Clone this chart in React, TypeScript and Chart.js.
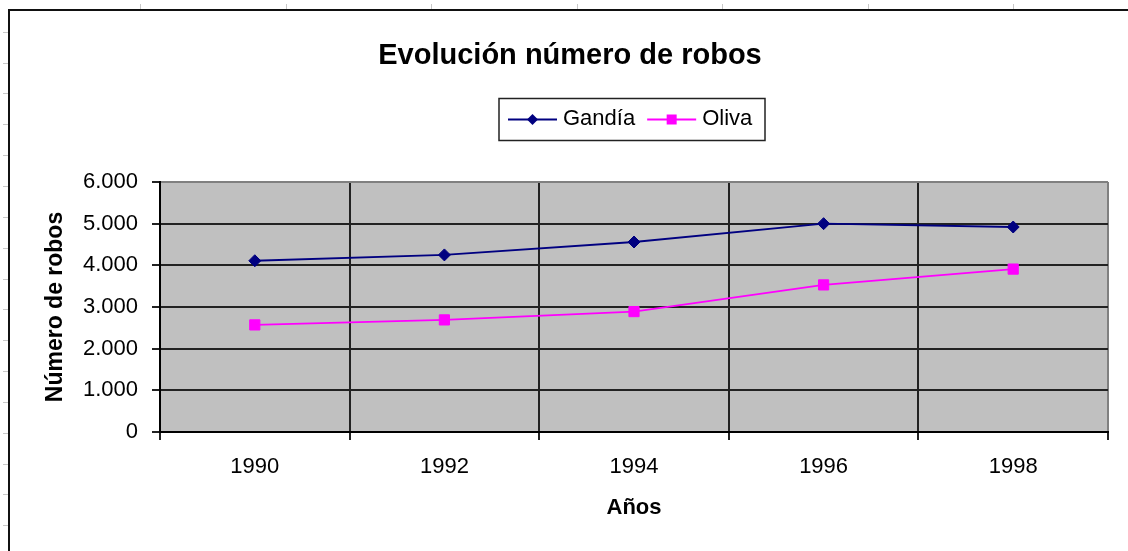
import React, { useEffect, useRef } from 'react';
import { Chart, registerables } from 'chart.js';

Chart.register(...registerables);

const FONT = "'Liberation Sans', Arial, Helvetica, sans-serif";

const chartTitle = 'Evolución número de robos';
const xAxisTitle = 'Años';
const yAxisTitle = 'Número de robos';
const years = ['1990', '1992', '1994', '1996', '1998'];
const seriesNames = ['Gandía', 'Oliva'];
const gandia = [4110, 4250, 4560, 5000, 4920];
const oliva = [2570, 2690, 2890, 3530, 3910];
const yMin = 0;
const yMax = 6000;
const yStep = 1000;

const formatThousands = (v: number) =>
  String(v).replace(/\B(?=(\d{3})+(?!\d))/g, '.');

const drawMarker = (ctx: CanvasRenderingContext2D, style: string, x: number, y: number, r: number) => {
  ctx.beginPath();
  if (style === 'rectRot') {
    ctx.moveTo(x - r, y);
    ctx.lineTo(x, y - r);
    ctx.lineTo(x + r, y);
    ctx.lineTo(x, y + r);
    ctx.closePath();
  } else {
    ctx.rect(x - r, y - r, 2 * r, 2 * r);
  }
  ctx.fill();
};

const backgroundPlugin = {
  id: 'sheetBackground',
  beforeDraw(chart: any) {
    const { ctx, chartArea } = chart;
    ctx.save();
    // spreadsheet cell ticks outside the chart frame
    ctx.strokeStyle = '#c8c8c8';
    ctx.lineWidth = 1;
    for (let x = 140; x < chart.width; x += 145.5) {
      ctx.beginPath();
      ctx.moveTo(Math.round(x) + 0.5, 4);
      ctx.lineTo(Math.round(x) + 0.5, 9);
      ctx.stroke();
    }
    for (let y = 31.7; y < chart.height; y += 30.85) {
      ctx.beginPath();
      ctx.moveTo(3, Math.round(y) + 0.5);
      ctx.lineTo(8, Math.round(y) + 0.5);
      ctx.stroke();
    }
    // chart frame
    ctx.strokeStyle = '#111';
    ctx.lineWidth = 2;
    ctx.beginPath();
    ctx.moveTo(chart.width + 2, 10);
    ctx.lineTo(9, 10);
    ctx.lineTo(9, chart.height + 2);
    ctx.stroke();
    // plot area
    ctx.fillStyle = '#c0c0c0';
    ctx.fillRect(chartArea.left, chartArea.top, chartArea.right - chartArea.left, chartArea.bottom - chartArea.top);
    ctx.restore();
  },
};

const legendPlugin = {
  id: 'boxLegend',
  afterDraw(chart: any, _args: any, opts: any) {
    const { ctx } = chart;
    const { left, top, width, height } = opts;
    ctx.save();
    ctx.lineWidth = 1.5;
    ctx.strokeStyle = '#222';
    ctx.strokeRect(left, top, width, height);
    ctx.font = `22px ${FONT}`;
    ctx.textBaseline = 'middle';
    ctx.textAlign = 'left';
    const cy = top + height / 2;
    let x = left + 9;
    chart.data.datasets.forEach((ds: any) => {
      ctx.strokeStyle = ds.borderColor;
      ctx.lineWidth = ds.borderWidth;
      ctx.beginPath();
      ctx.moveTo(x, cy);
      ctx.lineTo(x + 49, cy);
      ctx.stroke();
      ctx.fillStyle = ds.borderColor;
      drawMarker(ctx, ds.pointStyle, x + 24.5, cy, ds.pointStyle === 'rectRot' ? 5.5 : 5);
      ctx.fillStyle = '#000';
      ctx.fillText(ds.label, x + 55, cy - 1);
      x += 55 + ctx.measureText(ds.label).width + 12;
    });
    ctx.restore();
  },
};

export default function App() {
  const canvasRef = useRef<HTMLCanvasElement | null>(null);

  useEffect(() => {
    if (!canvasRef.current) return;
    Chart.defaults.font.family = FONT;
    Chart.defaults.color = '#000';
    const chart = new Chart(canvasRef.current, {
      type: 'line',
      data: {
        labels: years,
        datasets: [
          {
            label: seriesNames[0],
            data: gandia,
            borderColor: '#000080',
            backgroundColor: '#000080',
            borderWidth: 1.8,
            pointStyle: 'rectRot',
            pointRadius: 6,
            pointBorderWidth: 1,
            pointBackgroundColor: '#000080',
            tension: 0,
            fill: false,
          },
          {
            label: seriesNames[1],
            data: oliva,
            borderColor: '#ff00ff',
            backgroundColor: '#ff00ff',
            borderWidth: 1.8,
            pointStyle: 'rect',
            pointRadius: 7.2,
            pointBorderWidth: 1,
            pointBackgroundColor: '#ff00ff',
            tension: 0,
            fill: false,
          },
        ],
      },
      options: {
        responsive: false,
        animation: false,
        devicePixelRatio: 1,
        layout: { padding: { left: 32, right: 20, top: 0, bottom: 0 } },
        plugins: {
          legend: { display: false },
          tooltip: { enabled: false },
          title: {
            display: true,
            text: chartTitle,
            color: '#000',
            font: { size: 29, weight: 'bold', family: FONT },
            padding: { top: 39, bottom: 108.2 },
          },
          boxLegend: { left: 499, top: 98.5, width: 266, height: 42 },
        } as any,
        scales: {
          x: {
            type: 'category',
            offset: true,
            grid: {
              offset: true,
              color: (c: any) => (c.type === 'tick' ? '#222' : '#808080'),
              tickColor: '#222',
              lineWidth: 2,
              tickLength: 8,
            },
            border: { display: true, color: '#000', width: 2 },
            ticks: { color: '#000', font: { size: 22, family: FONT }, padding: 14, maxRotation: 0 },
            title: {
              display: true,
              text: xAxisTitle,
              color: '#000',
              font: { size: 22, weight: 'bold', family: FONT },
              padding: { top: 0, bottom: 30 },
            },
            afterFit: (scale: any) => {
              scale.height = 119;
            },
          },
          y: {
            type: 'linear',
            min: yMin,
            max: yMax,
            grid: {
              color: (c: any) => (c.tick && c.tick.value === yMax ? '#808080' : '#222'),
              tickColor: '#222',
              lineWidth: 2,
              tickLength: 8,
            },
            border: { display: true, color: '#000', width: 2 },
            ticks: {
              stepSize: yStep,
              color: '#000',
              font: { size: 22, family: FONT },
              padding: 14,
              callback: (v: any) => formatThousands(Number(v)),
            },
            title: {
              display: true,
              text: yAxisTitle,
              color: '#000',
              font: { size: 23, weight: 'bold', family: FONT },
              padding: { top: 10, bottom: 0 },
            },
            afterFit: (scale: any) => {
              scale.width = 128;
            },
          },
        },
      },
      plugins: [backgroundPlugin, legendPlugin],
    });
    return () => chart.destroy();
  }, []);

  return (
    <div style={{ position: 'fixed', left: 0, top: 0, width: 1128, height: 551, background: '#fff' }}>
      <canvas ref={canvasRef} width={1128} height={551} />
    </div>
  );
}
